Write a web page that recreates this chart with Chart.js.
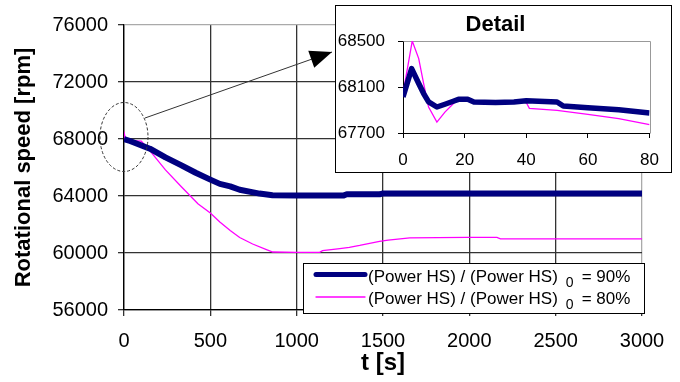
<!DOCTYPE html>
<html lang="en">
<head>
<meta charset="UTF-8">
<title>Rotational speed</title>
<script src="https://cdn.jsdelivr.net/npm/chart.js"></script>
<style>
  html, body { margin: 0; padding: 0; background: #fff; }
  #wrap { position: relative; width: 680px; height: 382px; }
  #main { position: absolute; left: 0; top: 0; }
  #inset { position: absolute; left: 335px; top: 5px; width: 335px; height: 166px;
           border: 1px solid #000; background: #fff; }
</style>
</head>
<body>
<div id="wrap">
  <canvas id="main" width="680" height="382"></canvas>
  <div id="inset"><canvas id="detail" width="335" height="166"></canvas></div>
</div>
<script>
// main plot: time [s] / rpm
const blueT = [0, 35, 150, 240, 330, 415, 500, 555, 615, 670, 785, 860, 1000, 1270, 1290, 1480, 1500, 3000];
const blueV = [68000, 67860, 67320, 66710, 66170, 65630, 65150, 64850, 64680, 64440, 64170, 64050, 64030, 64030, 64120, 64120, 64180, 64180];
const pinkT = [0, 3, 12, 100, 140, 240, 335, 428, 500, 555, 615, 670, 745, 825, 862, 1000, 1133, 1150, 1250, 1305, 1365, 1480, 1530, 1655, 1985, 2160, 2180, 3000];
const pinkV = [68000, 68300, 67900, 67850, 67320, 65830, 64610, 63460, 62800, 62180, 61580, 61090, 60630, 60240, 60070, 60050, 60050, 60170, 60310, 60400, 60530, 60820, 60910, 61060, 61090, 61090, 60990, 60990];

// detail plot: first 80 s
const detBlueT = [0, 2.8, 5.1, 6.7, 8.3, 11, 13.6, 16.3, 18, 21, 23, 30, 36, 40, 50, 52, 60, 70, 80];
const detBlueV = [68013, 68260, 68130, 68043, 67970, 67926, 67950, 67976, 67993, 67993, 67970, 67965, 67970, 67980, 67970, 67935, 67920, 67903, 67874];
const detPinkT = [0, 3, 5.1, 6.7, 8.3, 11, 13.6, 16.3, 18, 25, 36, 40, 41, 50, 60, 70, 80];
const detPinkV = [68040, 68500, 68347, 68130, 67926, 67795, 67882, 67955, 67993, 67976, 67970, 67965, 67915, 67897, 67862, 67825, 67773];

const seriesLabels = ["(Power HS) / (Power HS)", "(Power HS) / (Power HS)"];
const seriesSub = ["0", "0"];
const seriesRatio = ["= 90%", "= 80%"];
const seriesColors = ["#000080", "#ff00ff"];
const seriesWidths = [6, 1.3];

const FONT = '"Liberation Sans", Arial, sans-serif';

const toXY = (ts, vs) => ts.map((t, i) => ({ x: t, y: vs[i] }));

// legend, zoom ellipse and arrow drawn on top of the main chart
const annotations = {
  id: "annotations",
  afterDraw(chart) {
    const ctx = chart.ctx;
    const xs = chart.scales.x, ys = chart.scales.y;
    ctx.save();

    // ellipse around t=0
    const cx = xs.getPixelForValue(0), cy = ys.getPixelForValue(68000) - 2;
    ctx.strokeStyle = "#333";
    ctx.lineWidth = 1;
    ctx.setLineDash([3, 2]);
    ctx.beginPath();
    ctx.ellipse(cx, cy, 24, 34.5, 0, 0, Math.PI * 2);
    ctx.stroke();

    // arrow to the detail box
    const sx = cx + 21, sy = cy - 19;
    const tx = 332, ty = 52;
    ctx.setLineDash([]);
    ctx.beginPath();
    ctx.moveTo(sx, sy);
    ctx.lineTo(tx, ty);
    ctx.stroke();
    const a = Math.atan2(ty - sy, tx - sx);
    ctx.fillStyle = "#000";
    ctx.beginPath();
    ctx.moveTo(tx, ty);
    ctx.lineTo(tx - 22 * Math.cos(a) + 9 * Math.sin(a), ty - 22 * Math.sin(a) - 9 * Math.cos(a));
    ctx.lineTo(tx - 22 * Math.cos(a) - 9 * Math.sin(a), ty - 22 * Math.sin(a) + 9 * Math.cos(a));
    ctx.closePath();
    ctx.fill();

    // legend box
    ctx.fillStyle = "#fff";
    ctx.fillRect(303.5, 263.5, 341, 50);
    ctx.strokeStyle = "#000";
    ctx.strokeRect(303.5, 263.5, 341, 50);
    const base = [281.5, 304];
    for (let i = 0; i < seriesLabels.length; i++) {
      const b = base[i];
      ctx.strokeStyle = seriesColors[i];
      ctx.lineWidth = i === 0 ? 5 : 1.3;
      ctx.lineCap = "round";
      ctx.beginPath();
      ctx.moveTo(316, b - 7);
      ctx.lineTo(365, b - 7);
      ctx.stroke();
      ctx.fillStyle = "#000";
      ctx.textBaseline = "alphabetic";
      ctx.textAlign = "left";
      ctx.font = "17px " + FONT;
      ctx.fillText(seriesLabels[i], 368, b);
      let x = 368 + ctx.measureText(seriesLabels[i]).width + 8;
      ctx.font = "14px " + FONT;
      ctx.fillText(seriesSub[i], x, b + 5);
      x += ctx.measureText(seriesSub[i]).width + 8;
      ctx.font = "17px " + FONT;
      ctx.fillText(seriesRatio[i], x, b);
    }
    ctx.restore();
  }
};

new Chart(document.getElementById("main"), {
  type: "line",
  data: {
    datasets: [
      { label: seriesLabels[0], data: toXY(blueT, blueV), borderColor: seriesColors[0], borderWidth: seriesWidths[0],
        pointRadius: 0, tension: 0, borderJoinStyle: "round" },
      { label: seriesLabels[1], data: toXY(pinkT, pinkV), borderColor: seriesColors[1], borderWidth: seriesWidths[1],
        pointRadius: 0, tension: 0 }
    ]
  },
  options: {
    responsive: false,
    animation: false,
    devicePixelRatio: 1,
    layout: { padding: { left: 0, top: 25, right: 38, bottom: 0 } },
    plugins: { legend: { display: false }, tooltip: { enabled: false } },
    scales: {
      x: {
        type: "linear", min: 0, max: 3000,
        ticks: { stepSize: 500, color: "#000", padding: 13, maxRotation: 0, font: { family: FONT, size: 20 },
                 callback: v => String(v) },
        grid: { color: c => (c.tick && c.tick.value === 3000 ? "#aaa" : "#333"), tickColor: "#333", tickLength: 6, lineWidth: 1.3 },
        border: { color: "#000", width: 1.3 },
        title: { display: true, text: "t [s]", color: "#000", font: { family: FONT, size: 24, weight: "bold" },
                 padding: { top: 0, bottom: 4 } },
        afterFit: s => { s.height = 72; }
      },
      y: {
        min: 56000, max: 76000,
        ticks: { stepSize: 4000, color: "#000", padding: 10, font: { family: FONT, size: 20 },
                 callback: v => String(v) },
        grid: { color: c => (c.tick && c.tick.value === 76000 ? "#aaa" : "#333"), tickColor: "#333", tickLength: 6, lineWidth: 1.3 },
        border: { color: "#000", width: 1.3 },
        title: { display: true, text: "Rotational speed [rpm]", color: "#000", font: { family: FONT, size: 22, weight: "bold" },
                 padding: { top: 11, bottom: 0 } },
        afterFit: s => { s.width = 124; }
      }
    }
  },
  plugins: [annotations]
});

// grey frame on top and right of the detail plot
const frame = {
  id: "frame",
  beforeDatasetsDraw(chart) {
    const { ctx, chartArea: a } = chart;
    ctx.save();
    ctx.strokeStyle = "#999";
    ctx.lineWidth = 1;
    ctx.beginPath();
    ctx.moveTo(Math.round(a.left) + 0.5, Math.round(a.top) + 0.5);
    ctx.lineTo(Math.round(a.right) + 0.5, Math.round(a.top) + 0.5);
    ctx.lineTo(Math.round(a.right) + 0.5, Math.round(a.bottom) + 0.5);
    ctx.stroke();
    ctx.restore();
  }
};

new Chart(document.getElementById("detail"), {
  type: "line",
  data: {
    datasets: [
      { data: toXY(detBlueT, detBlueV), borderColor: seriesColors[0], borderWidth: 5.5,
        pointRadius: 0, tension: 0, borderJoinStyle: "round" },
      { data: toXY(detPinkT, detPinkV), borderColor: seriesColors[1], borderWidth: 1.3,
        pointRadius: 0, tension: 0 }
    ]
  },
  options: {
    responsive: false,
    animation: false,
    devicePixelRatio: 1,
    layout: { padding: { left: 0, top: 0, right: 16, bottom: 0 } },
    plugins: {
      legend: { display: false },
      tooltip: { enabled: false },
      title: { display: true, text: "Detail", color: "#000", font: { family: FONT, size: 22, weight: "bold" },
               padding: { top: 6, bottom: 2.6 } }
    },
    scales: {
      x: {
        type: "linear", min: 0, max: 80,
        ticks: { stepSize: 20, color: "#000", padding: 12, maxRotation: 0, font: { family: FONT, size: 17 } },
        grid: { drawOnChartArea: false, tickColor: "#000", tickLength: 5 },
        border: { color: "#000", width: 1 },
        afterFit: s => { s.height = 39; }
      },
      y: {
        min: 67700, max: 68500,
        ticks: { stepSize: 400, color: "#000", padding: 13, font: { family: FONT, size: 17 },
                 callback: v => String(v) },
        grid: { drawOnChartArea: false, tickColor: "#000", tickLength: 5 },
        border: { color: "#000", width: 1 },
        afterFit: s => { s.width = 67; }
      }
    }
  },
  plugins: [frame]
});
</script>
</body>
</html>
